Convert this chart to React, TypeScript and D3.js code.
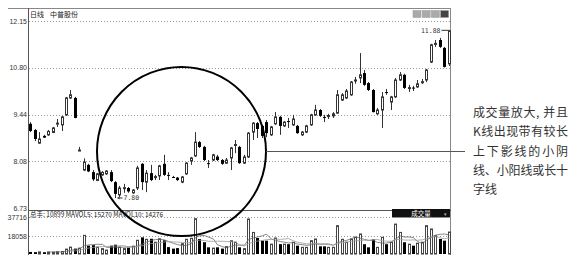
import React from "react";
import * as d3 from "d3";

const periodLabel = "日线";
const stockName = "中普股份";

const opens = [9.17, 8.99, 8.61, 8.82, 8.85, 8.92, 9.17, 9.14, 9.43, 9.92, 9.92, 8.41, 7.83, 7.98, 7.77, 7.53, 7.69, 7.72, 7.77, 7.48,
  7.11, 7.31, 7.31, 7.17, 7.31, 8.01, 7.48, 7.74, 7.63, 7.66, 8.01, 7.69, 7.63, 7.61, 7.48, 7.72, 8.09, 8.24, 8.64, 8.5,
  8.03, 8.12, 8.22, 8.12, 8.03, 8.18, 8.56, 8.5, 8.03, 8.21, 8.93, 9.19, 9.11, 9.22, 8.85, 9.17, 9.37, 9.11, 9.25, 9.14,
  9.11, 8.85, 8.93, 9.14, 9.43, 9.57, 9.37, 9.4, 9.4, 9.48, 9.86, 9.92, 10.01, 10.43, 10.5, 10.64, 10.35, 10.15, 9.46, 9.57,
  10.09, 9.8, 9.95, 10.44, 10.59, 10.21, 10.22, 10.24, 10.38, 10.44, 10.96, 11.49, 11.6, 11.37, 10.91];
const highs = [9.22, 9.02, 8.93, 8.85, 8.99, 9.08, 9.31, 9.4, 9.95, 10.15, 9.95, 8.5, 8.17, 8.01, 7.83, 7.74, 7.8, 7.83, 7.83, 7.51,
  7.37, 7.43, 7.34, 7.28, 7.95, 8.03, 7.83, 7.98, 7.69, 7.98, 8.27, 7.77, 7.66, 7.63, 7.66, 8.06, 8.21, 8.93, 8.67, 8.53,
  8.12, 8.3, 8.27, 8.15, 8.18, 8.5, 8.7, 8.53, 8.27, 8.93, 9.22, 9.22, 9.14, 9.28, 9.11, 9.51, 9.4, 9.25, 9.34, 9.43,
  9.14, 8.96, 9.14, 9.46, 9.72, 9.6, 9.43, 9.46, 9.51, 10.15, 10.06, 10.18, 10.41, 10.53, 11.22, 10.73, 10.38, 10.18, 9.63, 10.09,
  10.18, 9.98, 10.5, 10.67, 10.62, 10.3, 10.27, 10.44, 10.47, 10.76, 11.49, 11.6, 11.66, 11.4, 11.88];
const lows = [8.93, 8.67, 8.59, 8.76, 8.82, 8.9, 9.08, 8.96, 9.4, 9.89, 9.33, 8.4, 7.8, 7.77, 7.51, 7.51, 7.66, 7.69, 7.48, 7.02,
  7.05, 7.17, 7.17, 7.14, 7.25, 7.25, 7.19, 7.51, 7.54, 7.54, 7.66, 7.54, 7.6, 7.51, 7.45, 7.69, 7.98, 8.21, 8.47, 8.09,
  7.89, 8.09, 8.09, 7.98, 8.01, 7.83, 8.32, 8.01, 8.01, 8.18, 8.7, 8.76, 8.76, 8.79, 8.82, 9.14, 8.85, 9.08, 9.05, 9.11,
  8.88, 8.82, 8.9, 9.11, 9.4, 9.37, 9.22, 9.31, 9.34, 9.46, 9.83, 9.89, 9.98, 10.33, 10.35, 10.27, 10.12, 9.5, 9.43, 9.05,
  10.01, 9.57, 9.92, 10.41, 10.18, 10.09, 10.12, 10.21, 10.33, 10.38, 10.93, 11.4, 11.37, 10.8, 10.85];
const closes = [8.96, 8.73, 8.73, 8.77, 8.95, 9.05, 9.19, 9.37, 9.92, 10.01, 9.34, 8.41, 8.06, 7.79, 7.56, 7.72, 7.76, 7.8, 7.51, 7.14,
  7.31, 7.32, 7.21, 7.25, 7.89, 7.48, 7.74, 7.54, 7.64, 7.95, 7.69, 7.67, 7.62, 7.54, 7.63, 8.03, 8.18, 8.64, 8.5, 8.12,
  8.02, 8.27, 8.12, 8.01, 8.12, 8.47, 8.57, 8.03, 8.21, 8.9, 9.19, 9.02, 8.82, 8.9, 9.08, 9.37, 9.11, 9.22, 9.24, 9.31,
  8.9, 8.93, 9.11, 9.43, 9.57, 9.4, 9.36, 9.41, 9.46, 10.01, 10.01, 10.12, 10.38, 10.44, 10.59, 10.3, 10.15, 9.51, 9.57, 9.95,
  10.08, 9.95, 10.44, 10.59, 10.21, 10.22, 10.21, 10.33, 10.39, 10.73, 11.46, 11.5, 11.4, 10.82, 11.86];
const volumes = [2100, 1900, 2200, 1800, 2000, 1900, 2300, 2600, 5000, 7000, 5500, 6000, 19000, 8500, 9000, 7000, 5500, 4000, 8500, 9500,
  7000, 5500, 6500, 8000, 14000, 17000, 15000, 15500, 12000, 15500, 14000, 7000, 5500, 6000, 10500, 15000, 16000, 36000, 15300, 12000,
  6800, 6000, 6800, 5500, 7500, 13500, 12000, 6800, 5500, 35700, 22000, 16300, 13600, 13600, 10000, 16300, 10000, 10000, 10000, 12000,
  8500, 6800, 6800, 13600, 15300, 7800, 7800, 6800, 6800, 28900, 15000, 12000, 15300, 17000, 20400, 10000, 6800, 15000, 6800, 17000,
  10000, 12000, 30500, 22000, 12000, 10000, 8500, 11000, 12000, 28900, 25500, 18700, 15300, 13600, 22400];

const priceTicks = [12.15, 10.8, 9.44, 8.08, 6.73];
const volTicks = [37716, 18058];
const volHeader = "总手: 10899 MAVOL5: 15270 MAVOL10: 14276";
const volPanelName = "成交量";
const highLabel = "11.88";
const lowLabel = "7.80";
const noteLines = ["成交量放大, 并且", "K线出现带有较长", "上下影线的小阴", "线、小阳线或长十", "字线"];

const movingAvg = (arr: number[], n: number) =>
  arr.map((_, i) => (i < n - 1 ? null : d3.mean(arr.slice(i - n + 1, i + 1)) as number));

export default function App() {
  const W = 581, H = 272;
  const left = 29, right = 451;
  const n = opens.length;
  const x = d3.scaleBand<number>().domain(d3.range(n)).range([left, right]).paddingInner(0.32).paddingOuter(0.1);
  const y = d3.scaleLinear().domain([6.73, 12.15]).range([208, 21]);
  const yv = d3.scaleLinear().domain([0, 37716]).range([254, 217]);
  const cx = (i: number) => Math.round(x(i) as number) + 1.5;
  const numFont = "'Liberation Sans', Arial, sans-serif";
  const cjk = "'Noto Sans CJK SC', sans-serif";
  const mono = "'DejaVu Sans Mono', monospace";

  const ma5 = movingAvg(volumes, 5);
  const ma10 = movingAvg(volumes, 10);
  const maLine = d3.line<number | null>()
    .defined((d) => d !== null)
    .x((_, i) => cx(i))
    .y((d) => yv(d as number));

  const lowIdx = d3.minIndex(lows);
  const highIdx = d3.maxIndex(highs);

  return (
    <svg width={W} height={H} style={{ position: "absolute", left: 0, top: 0, background: "#fff" }}>
      <rect x={0} y={0} width={W} height={H} fill="#fff" />
      {/* frame */}
      <line x1={8} x2={right} y1={8.5} y2={8.5} stroke="#888" />
      <line x1={left - 0.5} x2={left - 0.5} y1={8} y2={255} stroke="#555" />
      <line x1={right - 0.5} x2={right - 0.5} y1={8} y2={255} stroke="#888" />
      <line x1={left} x2={right} y1={210.5} y2={210.5} stroke="#555" />
      {/* header */}
      <text x={30} y={17} fontSize={7} fontFamily={cjk} fill="#222">{periodLabel}</text>
      <text x={50} y={17} fontSize={7} fontFamily={cjk} fill="#222">{stockName}</text>
      {[0, 1, 2, 3].map((k) => (
        <rect key={k} x={413 + k * 9.2} y={10.5} width={8} height={7} fill={k === 3 ? "#444" : "#aaa"} stroke="#999" strokeWidth={0.5} />
      ))}
      {/* price grid */}
      {priceTicks.map((t, k) => (
        <g key={k}>
          {k < 4 && <line x1={left} x2={right - 1} y1={Math.round(y(t)) + 0.5} y2={Math.round(y(t)) + 0.5} stroke="#999" strokeDasharray="1,2" />}
          <text x={27} y={y(t) + 2.5} fontSize={7} fontFamily={numFont} fill="#333" textAnchor="end">{t.toFixed(2)}</text>
        </g>
      ))}
      {/* candles */}
      {opens.map((o, i) => {
        const c = closes[i];
        const up = c >= o;
        const xx = Math.round(x(i) as number);
        const top = y(Math.max(o, c));
        const bot = y(Math.min(o, c));
        const h = Math.max(1, bot - top);
        return (
          <g key={i}>
            <line x1={xx + 1.5} x2={xx + 1.5} y1={y(highs[i])} y2={y(lows[i])} stroke="#333" strokeWidth={1} />
            {up ? (
              <rect x={xx + 0.5} y={top} width={2} height={h} fill="#fff" stroke="#333" strokeWidth={1} />
            ) : (
              <rect x={xx} y={top} width={3} height={h} fill="#000" />
            )}
          </g>
        );
      })}
      {/* high / low marks */}
      <line x1={cx(highIdx) - 8} x2={cx(highIdx)} y1={y(highs[highIdx])} y2={y(highs[highIdx])} stroke="#333" />
      <text x={cx(highIdx) - 9} y={y(highs[highIdx]) + 2.5} fontSize={6.5} fontFamily={mono} fill="#333" textAnchor="end">{highLabel}</text>
      <line x1={cx(lowIdx) + 2} x2={cx(lowIdx) + 7} y1={y(lows[lowIdx])} y2={y(lows[lowIdx])} stroke="#333" />
      <path d={`M${cx(lowIdx) + 2},${y(lows[lowIdx])} l2,-1.5 l0,3 z`} fill="#333" />
      <text x={cx(lowIdx) + 8} y={y(lows[lowIdx]) + 2.5} fontSize={6.5} fontFamily={mono} fill="#333">{lowLabel}</text>
      {/* volume panel */}
      <text x={30} y={216.5} fontSize={7} fontFamily={cjk} fill="#222" textLength={133} lengthAdjust="spacingAndGlyphs">{volHeader}</text>
      <rect x={392} y={209} width={58} height={8.5} fill="#111" />
      <text x={421} y={216} fontSize={6.5} fontFamily={cjk} fill="#fff" textAnchor="middle">{volPanelName}</text>
      <text x={444} y={215.5} fontSize={5} fill="#bbb">▾</text>
      {volTicks.map((t, k) => (
        <g key={k}>
          <line x1={left} x2={right - 1} y1={Math.round(yv(t)) + 0.5} y2={Math.round(yv(t)) + 0.5} stroke="#999" strokeDasharray="1,2" />
          <text x={27} y={yv(t) + 2.5} fontSize={7} fontFamily={numFont} fill="#333" textAnchor="end">{t}</text>
        </g>
      ))}
      {volumes.map((v, i) => {
        const up = closes[i] >= opens[i];
        const xx = Math.round(x(i) as number);
        const top = yv(v);
        const h = yv(0) - top;
        return up ? (
          <rect key={i} x={xx + 0.5} y={top} width={2} height={h} fill="#fff" stroke="#444" strokeWidth={1} />
        ) : (
          <rect key={i} x={xx} y={top} width={3} height={h} fill="#000" />
        );
      })}
      <path d={maLine(ma5) || ""} fill="none" stroke="#666" strokeWidth={0.8} />
      <path d={maLine(ma10) || ""} fill="none" stroke="#999" strokeWidth={0.8} />
      {/* annotation */}
      <circle cx={181.5} cy={151.5} r={84.5} fill="none" stroke="#000" strokeWidth={2} />
      <line x1={266} x2={465} y1={151.5} y2={151.5} stroke="#555" strokeWidth={1} />
      {noteLines.map((s, k) => (
        <text key={k} x={473} y={117 + k * 19.3} fontSize={12} fontFamily={cjk} fill="#333"
          {...(k < 4 ? { textLength: 95, lengthAdjust: "spacing" } : {})}>{s}</text>
      ))}
    </svg>
  );
}
